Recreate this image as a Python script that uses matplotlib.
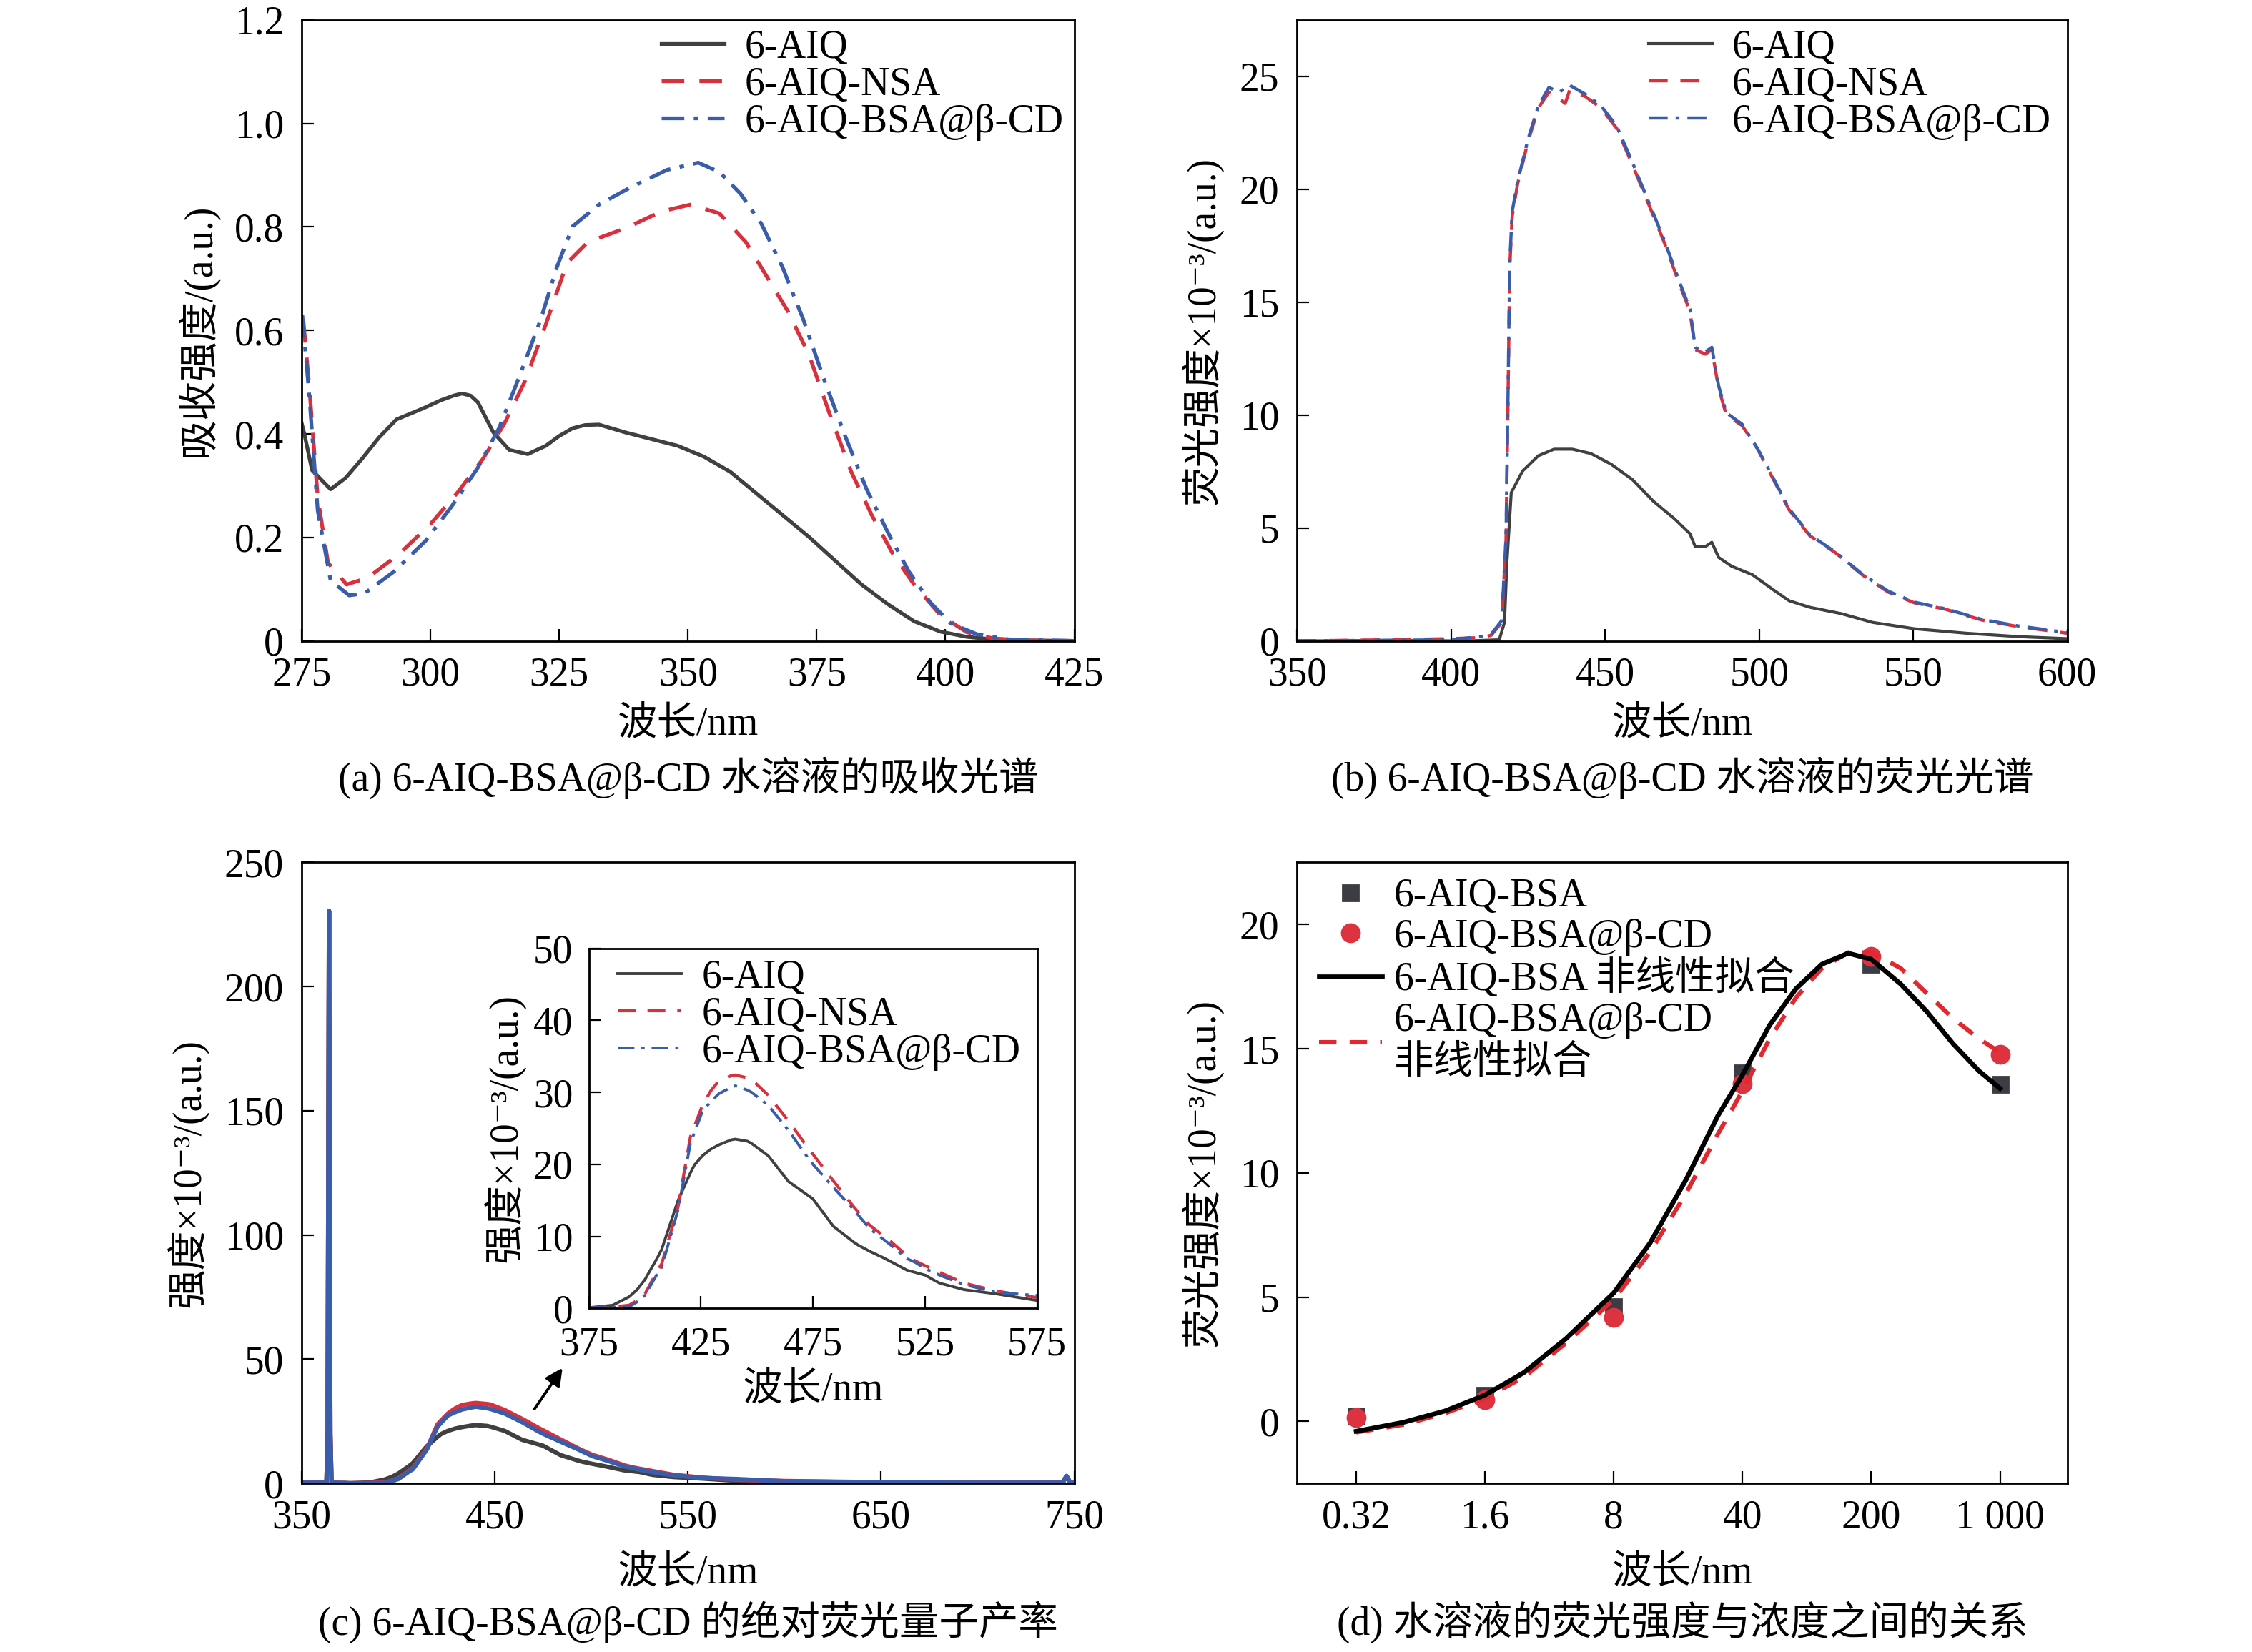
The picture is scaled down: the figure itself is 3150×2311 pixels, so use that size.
import numpy as np
import matplotlib
matplotlib.use('Agg')
import matplotlib.pyplot as plt

plt.rcParams['font.family'] = ['Liberation Serif', 'Noto Sans CJK SC', 'DejaVu Serif']
plt.rcParams['font.size'] = 20
plt.rcParams['axes.linewidth'] = 1.0
plt.rcParams['xtick.direction'] = 'in'
plt.rcParams['ytick.direction'] = 'in'
plt.rcParams['xtick.major.size'] = 6
plt.rcParams['ytick.major.size'] = 6
plt.rcParams['xtick.major.pad'] = 8
plt.rcParams['ytick.major.pad'] = 9

GRAY = '#404040'
RED = '#d9303e'
BLUE = '#3a5dab'
DASH = (0, (6, 4))
DASHDOT = (0, (6, 2.5, 1.2, 2.5))

names = ['6-AIQ', '6-AIQ-NSA', '6-AIQ-BSA@β-CD']

# (a) absorption
a_x_aiq = [275, 275.5, 277, 280.6, 283.5, 286.7, 290, 293.4, 298.5, 302, 304.5, 306.1, 307.8,
           309.2, 312.2, 315.3, 318.9, 322.4, 325, 327.6, 330, 332.7, 337.8, 342.9, 348, 353.1,
           358.2, 363.3, 368.4, 373.5, 378.6, 383.7, 388.8, 393.9, 399, 404.1, 409.2, 415, 425]
a_y_aiq = [0.42, 0.40, 0.33, 0.293, 0.315, 0.352, 0.393, 0.428, 0.449, 0.465, 0.474, 0.478, 0.474,
           0.461, 0.403, 0.369, 0.361, 0.377, 0.396, 0.411, 0.417, 0.418, 0.403, 0.39, 0.377, 0.356,
           0.327, 0.285, 0.243, 0.201, 0.155, 0.109, 0.071, 0.038, 0.018, 0.008, 0.003, 0.001, 0.0]
a_x_nsa = [275.3, 276.5, 278.1, 280.1, 283.7, 287.8, 293.9, 300, 305.1, 310.2, 314.3, 318.4, 322.4,
           326.5, 330.6, 337.8, 344.9, 350.5, 356.1, 361.2, 365.3, 369.4, 373.5, 377.6, 381.7,
           385.7, 389.8, 393.9, 399, 404.1, 409.2, 415, 425]
a_y_nsa = [0.62, 0.486, 0.277, 0.151, 0.109, 0.122, 0.168, 0.226, 0.285, 0.352, 0.419, 0.503, 0.612,
           0.73, 0.771, 0.797, 0.83, 0.843, 0.826, 0.771, 0.704, 0.637, 0.553, 0.436, 0.327,
           0.243, 0.168, 0.109, 0.05, 0.017, 0.005, 0.001, 0.0]
a_x_bsa = [275.1, 276.5, 278.1, 280.6, 284.2, 287.2, 292.9, 299, 304.1, 309.2, 313.3, 317.3, 321.4,
           324.5, 327.6, 332.7, 338.8, 345.9, 352, 356.1, 360.2, 364.3, 368.4, 372.4, 376.5,
           380.6, 384.7, 388.8, 392.9, 397, 401, 406.1, 412.2, 425]
a_y_bsa = [0.63, 0.47, 0.252, 0.117, 0.088, 0.092, 0.134, 0.193, 0.26, 0.335, 0.411, 0.512, 0.621,
           0.721, 0.801, 0.843, 0.876, 0.91, 0.924, 0.906, 0.864, 0.805, 0.721, 0.621, 0.503,
           0.394, 0.293, 0.21, 0.134, 0.075, 0.034, 0.013, 0.003, 0.0]

# (b) fluorescence
b_x_aiq = [350, 380, 405, 415.6, 417.3, 418.1, 419.5, 423.2, 428.3, 433.4, 439.3, 445.3, 452, 458.8,
           465.6, 472.4, 477.5, 479.2, 482.5, 484.6, 486.8, 491, 497.8, 504.6, 509.7, 516.4,
           526.6, 536.8, 550.3, 567.3, 584.2, 600]
b_y_aiq = [0.0, 0.02, 0.0, 0.05, 0.82, 3.5, 6.57, 7.53, 8.2, 8.49, 8.49, 8.3, 7.82, 7.15,
           6.19, 5.42, 4.75, 4.18, 4.18, 4.37, 3.7, 3.31, 2.93, 2.26, 1.78, 1.49,
           1.21, 0.82, 0.54, 0.34, 0.19, 0.1]
b_x_nsa = [350, 380, 400, 410, 413, 416.4, 417.8, 418.5, 419, 419.8, 421.5, 424.9, 428.3, 431.7,
           435.1, 437, 438.5, 443.6, 448.6, 453.7, 458.8, 463.9, 469, 474.1, 477.5, 479.2,
           482.5, 484.6, 486.8, 489.3, 494.4, 499.5, 504.6, 509.7, 516.4, 524.9, 533.4,
           541.9, 550.3, 560.5, 572.4, 584.2, 600]
b_y_nsa = [0.0, 0.05, 0.1, 0.15, 0.25, 0.82, 4.46, 11.2, 16.5, 18.8, 20.2, 22.1, 23.6, 24.3,
           24.0, 23.8, 24.4, 24.1, 23.6, 22.7, 21.1, 19.4, 17.7, 15.8, 14.6, 12.9,
           12.7, 12.9, 11.2, 10.0, 9.54, 8.49, 7.15, 5.8, 4.66, 3.89, 2.93,
           2.16, 1.69, 1.4, 0.92, 0.63, 0.34]
b_x_bsa = [350, 380, 400, 410, 413, 416.4, 417.8, 418.5, 419, 419.8, 421.5, 424.9, 428.3, 431.7,
           435.1, 438.5, 443.6, 448.6, 453.7, 458.8, 463.9, 469, 474.1, 477.5, 479.2,
           482.5, 484.6, 486.8, 489.3, 494.4, 499.5, 504.6, 509.7, 516.4, 524.9, 533.4,
           541.9, 550.3, 560.5, 572.4, 584.2, 600]
b_y_bsa = [0.0, 0.03, 0.05, 0.2, 0.3, 0.9, 4.6, 11.4, 16.7, 19.0, 20.3, 22.2, 23.7, 24.5,
           24.3, 24.6, 24.2, 23.7, 22.8, 21.2, 19.5, 17.8, 15.9, 14.7, 13.0,
           12.8, 13.0, 11.3, 10.1, 9.6, 8.5, 7.2, 5.85, 4.7, 3.92, 2.96,
           2.2, 1.72, 1.42, 0.95, 0.66, 0.37]

# (c) absolute quantum yield, inset range 375-575 nm
c_x = [375, 385.6, 392.9, 396.5, 400, 405.7, 407.5, 414.8, 420.3, 422.1, 425.7, 429.4, 433, 438.5,
       440.3, 445.8, 447.6, 455, 464.1, 473.2, 475, 484.1, 493.2, 495.1, 500.5, 506, 509.7,
       517, 520.6, 525.2, 529.7, 531.6, 542.5, 557.1, 575]
c_y_aiq = [0.1, 0.44, 1.6, 2.6, 4.0, 7.1, 8.2, 15.0, 18.8, 19.9, 21.2, 22.1, 22.7, 23.4,
           23.5, 23.2, 22.9, 21.2, 17.6, 15.6, 15.2, 11.4, 9.2, 8.8, 7.9, 7.1, 6.5,
           5.3, 5.0, 4.6, 3.8, 3.5, 2.6, 2.0, 1.1]
c_y_nsa = [0.1, 0.2, 0.44, 1.1, 2.0, 5.3, 6.2, 14.1, 23.8, 25.3, 28.2, 30.2, 31.6, 32.3,
           32.4, 32.0, 31.8, 29.6, 26.0, 22.1, 21.4, 17.7, 14.1, 13.4, 11.5, 10.2, 9.3,
           7.3, 6.6, 5.9, 5.3, 5.0, 3.5, 2.4, 1.5]
c_y_bsa = [0.1, 0.15, 0.2, 0.9, 1.8, 4.9, 5.7, 13.7, 22.9, 24.4, 27.4, 28.7, 29.8, 30.7,
           30.9, 30.3, 30.0, 28.2, 24.7, 20.7, 20.0, 16.8, 13.7, 13.0, 11.0, 9.7, 8.8,
           6.9, 6.4, 5.5, 4.9, 4.6, 3.3, 2.2, 1.8]
# excitation line and long tail shown only in the main panel
c_x_low = [350, 362.8, 363.4, 364.1, 364.8, 365.4, 372]
c_y_low = [0.3, 0.3, 20.0, 230.5, 20.0, 0.3, 0.2]
c_x_tail = [600, 650, 700, 744, 746, 748, 750]
c_y_tail_aiq = [0.6, 0.3, 0.2, 0.2, 3.0, 0.2, 0.2]
c_y_tail_nsa = [1.0, 0.5, 0.3, 0.3, 3.0, 0.3, 0.3]
c_y_tail_bsa = [0.9, 0.4, 0.3, 0.3, 3.0, 0.3, 0.3]

# (d) intensity vs concentration
d_conc = [0.32, 1.6, 8, 40, 200, 1000]
d_bsa = [0.2, 1.06, 4.62, 14.03, 18.4, 13.57]
d_bsa_cd = [0.15, 0.88, 4.17, 13.6, 18.7, 14.76]
d_fit_x = [0.32, 0.576, 0.973, 1.6, 2.61, 4.42, 8, 12.6, 19.8, 29.4, 40, 56.2, 78, 108, 150,
           200, 289, 400, 556, 770, 1000]
d_fit_bsa = [-0.4, -0.04, 0.42, 1.06, 1.97, 3.34, 5.17, 7.18, 9.74, 12.3, 13.94, 15.95, 17.41,
             18.4, 18.84, 18.6, 17.6, 16.5, 15.2, 14.1, 13.4]
d_fit_bsa_cd = [-0.44, -0.13, 0.33, 0.93, 1.79, 3.16, 4.9, 6.81, 9.19, 11.56, 13.3, 15.4, 17.05,
                18.24, 18.87, 18.87, 18.24, 17.23, 16.22, 15.4, 14.85]

fig = plt.figure(figsize=(15.75, 11.555), dpi=200)

ax_a = fig.add_axes([0.134, 0.612, 0.343, 0.376])
ax_b = fig.add_axes([0.576, 0.612, 0.342, 0.376])
ax_c = fig.add_axes([0.134, 0.102, 0.343, 0.376])
ax_d = fig.add_axes([0.576, 0.102, 0.342, 0.376])
ax_in = fig.add_axes([0.2615, 0.208, 0.199, 0.218])

leg_kw = dict(frameon=False, handlelength=1.6, handletextpad=0.5, borderpad=0,
              borderaxespad=0, labelspacing=0.0)

# (a)
ax_a.plot(a_x_aiq, a_y_aiq, color=GRAY, lw=1.9, label=names[0])
ax_a.plot(a_x_nsa, a_y_nsa, color=RED, lw=1.9, ls=DASH, label=names[1])
ax_a.plot(a_x_bsa, a_y_bsa, color=BLUE, lw=1.9, ls=DASHDOT, label=names[2])
ax_a.set_xlim(275, 425)
ax_a.set_ylim(0, 1.2)
ax_a.set_xticks(range(275, 426, 25))
ax_a.set_yticks([0, 0.2, 0.4, 0.6, 0.8, 1.0, 1.2])
ax_a.set_yticklabels(['0', '0.2', '0.4', '0.6', '0.8', '1.0', '1.2'])
ax_a.set_xlabel('波长/nm', labelpad=6)
ax_a.set_ylabel('吸收强度/(a.u.)', labelpad=8)
ax_a.legend(loc='upper left', bbox_to_anchor=(0.465, 0.985), **leg_kw)

# (b)
ax_b.plot(b_x_aiq, b_y_aiq, color=GRAY, lw=1.5, label=names[0])
ax_b.plot(b_x_nsa, b_y_nsa, color=RED, lw=1.6, ls=DASH, label=names[1])
ax_b.plot(b_x_bsa, b_y_bsa, color=BLUE, lw=1.6, ls=DASHDOT, label=names[2])
ax_b.set_xlim(350, 600)
ax_b.set_ylim(0, 27.5)
ax_b.set_xticks(range(350, 601, 50))
ax_b.set_yticks(range(0, 26, 5))
ax_b.set_xlabel('波长/nm', labelpad=6)
ax_b.set_ylabel('荧光强度×10⁻³/(a.u.)', labelpad=8)
ax_b.legend(loc='upper left', bbox_to_anchor=(0.456, 0.985), **leg_kw)

# (c) main
for ys, tail, col in [(c_y_aiq, c_y_tail_aiq, GRAY), (c_y_nsa, c_y_tail_nsa, RED),
                      (c_y_bsa, c_y_tail_bsa, BLUE)]:
    ax_c.plot(c_x_low + c_x + c_x_tail, c_y_low + ys + tail, color=col, lw=2.2)
ax_c.set_xlim(350, 750)
ax_c.set_ylim(0, 250)
ax_c.set_xticks(range(350, 751, 100))
ax_c.set_yticks(range(0, 251, 50))
ax_c.set_xlabel('波长/nm', labelpad=9)
ax_c.set_ylabel('强度×10⁻³/(a.u.)', labelpad=8)
ax_c.annotate('', xy=(485, 46.5), xytext=(470.5, 30),
              arrowprops=dict(arrowstyle='-|>', color='black', lw=1.4, mutation_scale=18,
                              shrinkA=0, shrinkB=0))

# (c) inset
ax_in.plot(c_x, c_y_aiq, color=GRAY, lw=1.4, label=names[0])
ax_in.plot(c_x, c_y_nsa, color=RED, lw=1.5, ls=DASH, label=names[1])
ax_in.plot(c_x, c_y_bsa, color=BLUE, lw=1.4, ls=DASHDOT, label=names[2])
ax_in.set_xlim(375, 575)
ax_in.set_ylim(0, 50)
ax_in.set_xticks(range(375, 576, 50))
ax_in.set_yticks(range(0, 51, 10))
ax_in.tick_params(axis='x', pad=9)
ax_in.tick_params(axis='y', pad=8)
ax_in.set_xlabel('波长/nm', labelpad=4)
ax_in.set_ylabel('强度×10⁻³/(a.u.)', labelpad=4)
ax_in.legend(loc='upper left', bbox_to_anchor=(0.065, 0.97), **leg_kw)

# (d)
ax_d.plot(d_fit_x, d_fit_bsa, color='black', lw=2.4, label='6-AIQ-BSA 非线性拟合', zorder=3)
ax_d.plot(d_fit_x, d_fit_bsa_cd, color='#e0282e', lw=2.2, ls=(0, (4, 3)),
          label='6-AIQ-BSA@β-CD\n非线性拟合', zorder=2)
ax_d.plot(d_conc, d_bsa, ls='none', marker='s', ms=8, color='#3c3c44', label='6-AIQ-BSA', zorder=1)
ax_d.plot(d_conc, d_bsa_cd, ls='none', marker='o', ms=9, color='#dd3340', label='6-AIQ-BSA@β-CD',
          zorder=1)
ax_d.set_xscale('log')
ax_d.set_xlim(0.153, 2320)
ax_d.set_ylim(-2.5, 22.5)
ax_d.set_xticks(d_conc)
ax_d.set_xticklabels(['0.32', '1.6', '8', '40', '200', '1 000'])
ax_d.minorticks_off()
ax_d.set_yticks(range(0, 21, 5))
ax_d.set_xlabel('波长/nm', labelpad=9)
ax_d.set_ylabel('荧光强度×10⁻³/(a.u.)', labelpad=8)
h, l = ax_d.get_legend_handles_labels()
order = [2, 3, 0, 1]
leg_d = ax_d.legend([h[i] for i in order], [l[i] for i in order], loc='upper left',
                    bbox_to_anchor=(0.028, 0.975), frameon=False, handlelength=1.6,
                    handletextpad=0.3, borderpad=0, borderaxespad=0, labelspacing=0.08)
for t in leg_d.get_texts():
    t.set_linespacing(1.2)

for ax in [ax_a, ax_b, ax_c, ax_d, ax_in]:
    ax.tick_params(top=False, right=False)

fig.text(0.3055, 0.529, '(a) 6-AIQ-BSA@β-CD 水溶液的吸收光谱', ha='center', va='center')
fig.text(0.747, 0.529, '(b) 6-AIQ-BSA@β-CD 水溶液的荧光光谱', ha='center', va='center')
fig.text(0.3055, 0.018, '(c) 6-AIQ-BSA@β-CD 的绝对荧光量子产率', ha='center', va='center')
fig.text(0.747, 0.018, '(d) 水溶液的荧光强度与浓度之间的关系', ha='center', va='center')

fig.savefig('out.png', dpi=200)
